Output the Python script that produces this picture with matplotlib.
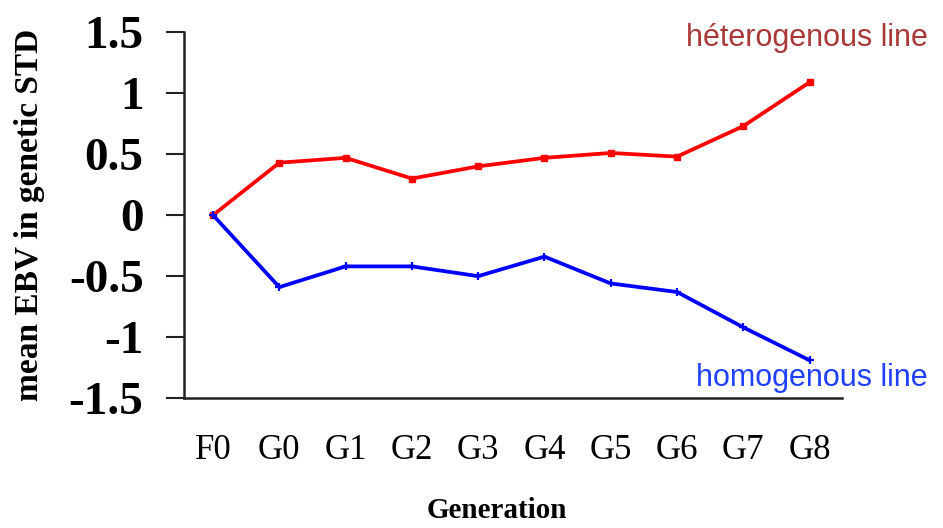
import matplotlib
matplotlib.use("Agg")
import matplotlib.pyplot as plt

# generations on the x axis
generations = ["F0", "G0", "G1", "G2", "G3", "G4", "G5", "G6", "G7", "G8"]
# mean EBV (genetic STD units)
hetero = [0.0, 0.43, 0.47, 0.30, 0.40, 0.47, 0.51, 0.48, 0.73, 1.09]
homo = [0.0, -0.59, -0.42, -0.42, -0.50, -0.34, -0.56, -0.63, -0.92, -1.19]
yticks = [-1.5, -1, -0.5, 0, 0.5, 1, 1.5]
ytick_labels = ["-1.5", "-1", "-0.5", "0", "0.5", "1", "1.5"]

plt.rcParams["axes.unicode_minus"] = False
serif = "Liberation Serif"

fig = plt.figure(figsize=(9.43, 5.28), dpi=100)
ax = fig.add_axes([0.195, 0.246, 0.698, 0.693])

x = range(len(generations))
ax.plot(x, hetero, color="#ff0000", lw=2.7, marker="s", ms=4)
ax.plot(x, homo, color="#0000ff", lw=2.7, marker="+", ms=6, mew=1.6)

ax.set_ylim(-1.5, 1.5)
ax.set_xlim(-0.44, 9.49)
ax.set_yticks(yticks)
ax.set_yticklabels(ytick_labels, fontfamily=serif, fontweight="bold", fontsize=34)
ax.set_xticks(list(x))
ax.set_xticklabels(generations, fontfamily=serif, fontsize=25)
ax.tick_params(axis="y", length=13, width=1.5, pad=16, color="#222222")
ax.tick_params(axis="x", length=0, pad=26)

for s in ["top", "right"]:
    ax.spines[s].set_visible(False)
for s in ["left", "bottom"]:
    ax.spines[s].set_linewidth(1.8)
    ax.spines[s].set_color("#222222")

ax.set_ylabel("mean EBV in genetic STD", fontfamily=serif, fontweight="bold",
              fontsize=24)
ax.yaxis.set_label_coords(-0.211, 0.5)
fig.text(0.527, 0.033, "Generation", fontfamily=serif, fontweight="bold",
         fontsize=21, ha="center", va="center")

fig.text(0.984, 0.928, "héterogenous line", fontfamily="Liberation Sans",
         fontsize=22, color="#a83838", ha="right", va="center")
fig.text(0.984, 0.284, "homogenous line", fontfamily="Liberation Sans",
         fontsize=22, color="#2040ff", ha="right", va="center")

fig.savefig("out.png", dpi=100)
